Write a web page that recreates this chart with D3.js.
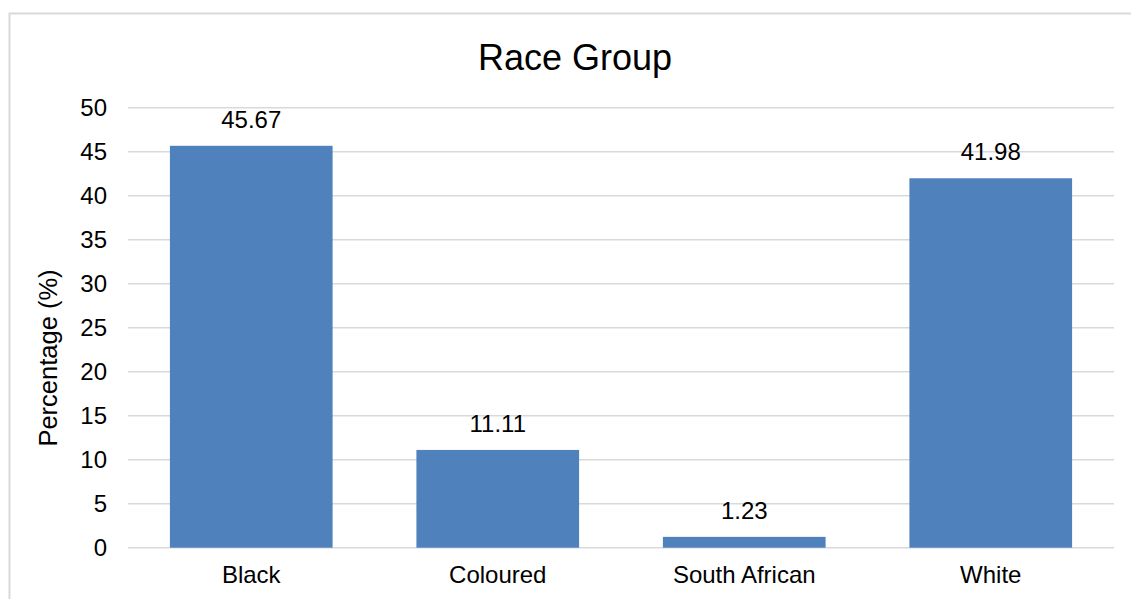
<!DOCTYPE html>
<html>
<head>
<meta charset="utf-8">
<script src="https://cdn.jsdelivr.net/npm/d3@7"></script>
<style>
  html, body { margin: 0; padding: 0; background: #fff; }
  svg { display: block; font-family: "Liberation Sans", Arial, sans-serif; }
</style>
</head>
<body>
<svg id="chart" width="1131" height="599"></svg>
<script>
// Race group distribution (percent of respondents)
const categories = ["Black", "Coloured", "South African", "White"];
const percentages = [45.67, 11.11, 1.23, 41.98];
const yTicks = [0, 5, 10, 15, 20, 25, 30, 35, 40, 45, 50];
const chartTitle = "Race Group";
const yAxisTitle = "Percentage (%)";

const svg = d3.select("#chart");
const width = 1131, height = 599;
const plot = { left: 128, right: 1114, top: 107.7, bottom: 547.7 };
const labelSize = 24;

// Outer chart frame
svg.append("rect")
  .attr("x", 9.5).attr("y", 13.5)
  .attr("width", width + 20).attr("height", height + 20)
  .attr("fill", "#fff").attr("stroke", "#d9d9d9").attr("stroke-width", 2);

const x = d3.scaleBand()
  .domain(categories)
  .range([plot.left, plot.right])
  .paddingInner(0.34)
  .paddingOuter(0.17);

const y = d3.scaleLinear()
  .domain([0, 50])
  .range([plot.bottom, plot.top]);

// Horizontal gridlines
svg.append("g")
  .selectAll("line")
  .data(yTicks)
  .join("line")
  .attr("x1", plot.left).attr("x2", plot.right)
  .attr("y1", d => y(d)).attr("y2", d => y(d))
  .attr("stroke", "#d9d9d9").attr("stroke-width", 1.5);

// Y axis tick labels
const yAxis = d3.axisLeft(y).tickValues(yTicks).tickSize(0).tickPadding(21);
svg.append("g")
  .attr("transform", `translate(${plot.left},0)`)
  .call(yAxis)
  .call(g => g.select(".domain").remove())
  .selectAll("text")
  .attr("font-size", labelSize)
  .attr("font-family", "Liberation Sans, Arial, sans-serif")
  .attr("fill", "#000");

// X axis category labels
const xAxis = d3.axisBottom(x).tickSize(0).tickPadding(18);
svg.append("g")
  .attr("transform", `translate(0,${plot.bottom})`)
  .call(xAxis)
  .call(g => g.select(".domain").remove())
  .selectAll("text")
  .attr("font-size", labelSize)
  .attr("font-family", "Liberation Sans, Arial, sans-serif")
  .attr("fill", "#000");

// Bars
svg.append("g")
  .selectAll("rect")
  .data(percentages)
  .join("rect")
  .attr("x", (d, i) => x(categories[i]))
  .attr("y", d => y(d))
  .attr("width", x.bandwidth())
  .attr("height", d => y(0) - y(d))
  .attr("fill", "#4f81bd");

// Value labels above bars
svg.append("g")
  .selectAll("text")
  .data(percentages)
  .join("text")
  .attr("x", (d, i) => x(categories[i]) + x.bandwidth() / 2)
  .attr("y", d => y(d) - 18)
  .attr("text-anchor", "middle")
  .attr("font-size", labelSize)
  .attr("fill", "#000")
  .text(d => d.toFixed(2));

// Chart title
svg.append("text")
  .attr("x", 575).attr("y", 70)
  .attr("text-anchor", "middle")
  .attr("font-size", 36)
  .attr("fill", "#000")
  .text(chartTitle);

// Y axis title
svg.append("text")
  .attr("transform", `translate(57,358) rotate(-90)`)
  .attr("text-anchor", "middle")
  .attr("font-size", 25.5)
  .attr("fill", "#000")
  .text(yAxisTitle);
</script>
</body>
</html>
